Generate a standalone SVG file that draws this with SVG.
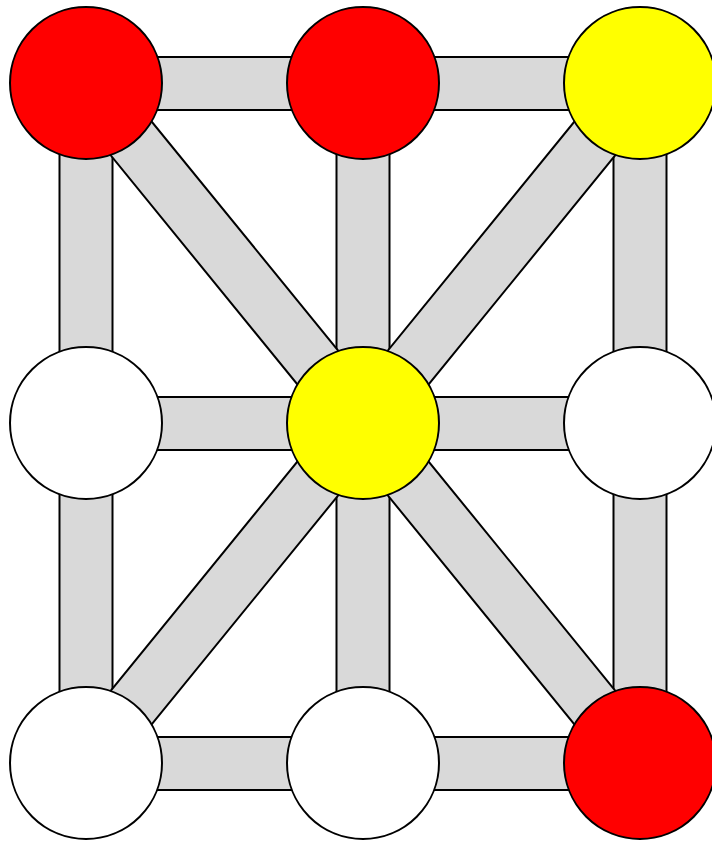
<svg xmlns="http://www.w3.org/2000/svg" width="712" height="842" viewBox="0 0 712 842">
<style>
.bar{fill:#d9d9d9;stroke:#000;stroke-width:2}
.n{stroke:#000;stroke-width:2}
.red{fill:#ff0000}.yel{fill:#ffff00}.wht{fill:#ffffff}
</style>
<rect width="712" height="842" fill="#fff"/>
<g id="connectors">
<rect class="bar" x="86" y="57" width="277" height="53"/>
<rect class="bar" x="363" y="57" width="277" height="53"/>
<rect class="bar" x="86" y="397" width="277" height="53"/>
<rect class="bar" x="363" y="397" width="277" height="53"/>
<rect class="bar" x="86" y="737" width="277" height="53"/>
<rect class="bar" x="363" y="737" width="277" height="53"/>
<rect class="bar" x="59.5" y="83" width="53" height="340"/>
<rect class="bar" x="59.5" y="423" width="53" height="340"/>
<rect class="bar" x="336.5" y="83" width="53" height="340"/>
<rect class="bar" x="336.5" y="423" width="53" height="340"/>
<rect class="bar" x="613.5" y="83" width="53" height="340"/>
<rect class="bar" x="613.5" y="423" width="53" height="340"/>
<rect class="bar" x="0" y="-26.5" width="438.6" height="53" transform="translate(86,83) rotate(50.83)"/>
<rect class="bar" x="0" y="-26.5" width="438.6" height="53" transform="translate(363,423) rotate(-50.83)"/>
<rect class="bar" x="0" y="-26.5" width="438.6" height="53" transform="translate(363,423) rotate(129.17)"/>
<rect class="bar" x="0" y="-26.5" width="438.6" height="53" transform="translate(363,423) rotate(50.83)"/>
</g>
<g id="n1"><circle class="n red" cx="86" cy="83" r="76"/></g>
<g id="n2"><circle class="n red" cx="363" cy="83" r="76"/></g>
<g id="n3"><circle class="n yel" cx="640" cy="83" r="76"/></g>
<g id="n4"><circle class="n wht" cx="86" cy="423" r="76"/></g>
<g id="n5"><circle class="n yel" cx="363" cy="423" r="76"/></g>
<g id="n6"><circle class="n wht" cx="640" cy="423" r="76"/></g>
<g id="n7"><circle class="n wht" cx="86" cy="763" r="76"/></g>
<g id="n8"><circle class="n wht" cx="363" cy="763" r="76"/></g>
<g id="n9"><circle class="n red" cx="640" cy="763" r="76"/></g>
</svg>
